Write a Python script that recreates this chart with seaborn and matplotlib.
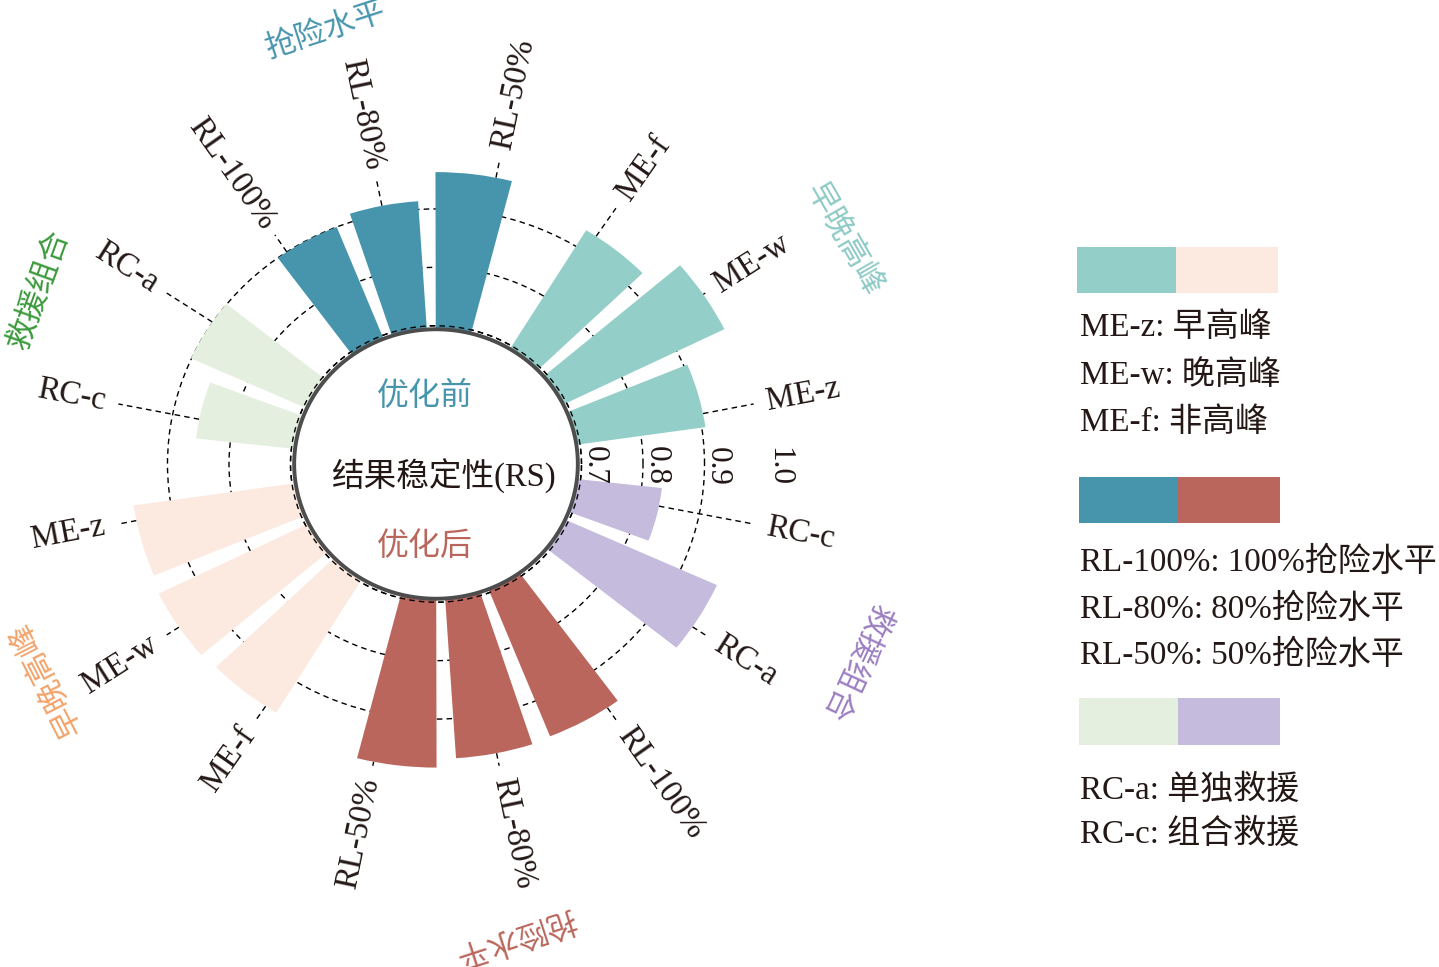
import numpy as np
import pandas as pd
import matplotlib
matplotlib.use("Agg")
import matplotlib.pyplot as plt
import seaborn as sns
from matplotlib.patches import Rectangle

# ---------------- data ----------------
groups = ["ME", "ME", "ME", "RL", "RL", "RL", "RC", "RC"]
categories = ["ME-z", "ME-w", "ME-f", "RL-50%", "RL-80%", "RL-100%", "RC-a", "RC-c"]
rs_before = [0.906, 0.986, 0.932, 0.963, 0.914, 0.900, 0.901, 0.856]   # 优化前
rs_after = [0.960, 0.966, 0.962, 0.983, 0.968, 0.965, 0.965, 0.833]    # 优化后
r_ticks = [0.7, 0.8, 0.9, 1.0]
r_tick_labels = ["0.7", "0.8", "0.9", "1.0"]
center_texts = ["优化前", "结果稳定性(RS)", "优化后"]
group_names = ["抢险水平", "早晚高峰", "救援组合", "救援组合", "抢险水平", "早晚高峰"]
legend_text = [
    ["ME-z: 早高峰", "ME-w: 晚高峰", "ME-f: 非高峰"],
    ["RL-100%: 100%抢险水平", "RL-80%: 80%抢险水平", "RL-50%: 50%抢险水平"],
    ["RC-a: 单独救援", "RC-c: 组合救援"],
]

# ---------------- style ----------------
sns.set_theme(style="white")
FAM = ["Liberation Serif", "Noto Sans CJK SC", "DejaVu Sans"]
plt.rcParams["font.family"] = FAM
plt.rcParams["axes.unicode_minus"] = False

col_before = dict(zip(["ME", "RL", "RC"], sns.color_palette(["#94CEC9", "#4795AD", "#E5EFDF"])))
col_after = dict(zip(["ME", "RL", "RC"], sns.color_palette(["#FCEAE0", "#BA665C", "#C4BBDD"])))
TXT = "#231815"

W, H = 1439, 967
fig = plt.figure(figsize=(W / 100, H / 100), dpi=100)

# geometry (pixels)
CX, CY = 436, 464
SQ = 0.95
R0 = 0.4634          # value at the centre
RMAX = 1.0
PX_PER = 615.0
rad_px = (RMAX - R0) * PX_PER
ax = fig.add_axes([(CX - rad_px) / W, (H - CY - rad_px * SQ) / H,
                   2 * rad_px / W, 2 * rad_px * SQ / H], projection="polar")
ax.set_aspect("auto")
ax.set_ylim(R0, RMAX)
ax.set_xticks([])
ax.set_yticks(r_ticks[:3])
ax.set_yticklabels([])
ax.yaxis.grid(True, linestyle=(0, (4, 3)), color="black", linewidth=1.0)
ax.xaxis.grid(False)
ax.spines["polar"].set_visible(False)
ax.set_facecolor("white")
ax.set_axisbelow(True)

# bar angles
step, width = 18.0, 14.4
gap_extra = {("ME", "RL"): 13.5, ("RL", "RC"): 11.5, ("RC", "ME"): 11.0}
seq = groups + groups
angles = []
a = 15.4
for i in range(len(seq)):
    if i > 0:
        prev, cur = seq[i - 1], seq[i]
        a += step + (gap_extra[(prev, cur)] if prev != cur else 0.0)
    angles.append(a)

df = pd.DataFrame({
    "label": categories + categories,
    "grp": seq,
    "phase": ["before"] * 8 + ["after"] * 8,
    "value": rs_before + rs_after,
    "angle": angles,
})
df["color"] = [col_before[g] if p == "before" else col_after[g] for g, p in zip(df["grp"], df["phase"])]

BOTTOM = 0.69
ax.bar(np.deg2rad(df["angle"]), df["value"] - BOTTOM, width=np.deg2rad(width), bottom=BOTTOM,
       color=list(df["color"]), linewidth=0, zorder=2)

# 0.7 dashed ring on top of bars
th = np.linspace(0, 2 * np.pi, 720)
ax.plot(th, np.full_like(th, 0.7), ls=(0, (4, 3)), color="black", lw=1.0, zorder=3)
# central white disc
ax.fill(th, np.full_like(th, 0.694), facecolor="white", edgecolor="#4D4D4D", lw=2.8, zorder=4)

# labels and leaders (16 equally spaced label positions)
LEAD_END, LAB_R = 0.99, 1.012
label_r_override = {4: (0.962, 0.978), 5: (0.935, 0.952)}   # upper RL-80%, RL-100%
for k in range(len(df)):
    lab = df["label"].iloc[k]
    val = df["value"].iloc[k]
    lead_end, lab_r = label_r_override.get(k, (LEAD_END, LAB_R))
    la = 11.25 + 22.5 * k
    t = np.deg2rad(la)
    ax.plot([t, t], [val, lead_end], ls=(0, (4, 3)), color="black", lw=1.0,
            zorder=1, clip_on=False)
    phi = np.degrees(np.arctan2(SQ * np.sin(t), np.cos(t)))
    if np.cos(t) >= 0:
        rot, ha = phi, "left"
    else:
        rot, ha = phi + 180, "right"
    ax.text(t, lab_r, lab, rotation=rot, ha=ha, va="center", rotation_mode="anchor",
            fontsize=23.5, color=TXT, family=FAM)

# radial tick labels
for v, s in zip(r_ticks, r_tick_labels):
    ax.text(np.deg2rad(-0.5), v + 0.021, s, rotation=-90, ha="center", va="center",
            fontsize=22.5, color=TXT, family=FAM)


def fx(x):
    return x / W


def fy(y):
    return 1 - y / H


LW = "light"
# centre texts
fig.text(fx(425), fy(397), center_texts[0], color="#4795AD", fontsize=23, ha="center", va="center",
         family=FAM, fontweight=LW)
fig.text(fx(443), fy(476), center_texts[1], color=TXT, fontsize=23.5, ha="center", va="center",
         family=FAM, fontweight=LW)
fig.text(fx(425), fy(547), center_texts[2], color="#BA665C", fontsize=23, ha="center", va="center",
         family=FAM, fontweight=LW)

# group labels
g_pos = [(326, 32, 18), (843, 240, -60), (40, 290, 70), (855, 662, -115), (513, 935, -162), (47, 678, 117)]
g_col = ["#4795AD", "#8ECAC5", "#3A9A3A", "#9B7EC1", "#BA665C", "#F2A36A"]
for name, (x, y, r), c in zip(group_names, g_pos, g_col):
    fig.text(fx(x), fy(y), name, rotation=r, rotation_mode="anchor", ha="center", va="center",
             color=c, fontsize=22.5, family=FAM, fontweight=LW)

# legend
rows = [(247, 293, 1077, 1176, 1278, col_before["ME"], col_after["ME"]),
        (477, 523, 1079, 1178, 1280, col_before["RL"], col_after["RL"]),
        (698, 745, 1079, 1178, 1280, col_before["RC"], col_after["RC"])]
for (y0, y1, x0, xm, x1, c1, c2) in rows:
    fig.add_artist(Rectangle((fx(x0), fy(y1)), fx(xm - x0), (y1 - y0) / H, transform=fig.transFigure,
                             facecolor=c1, edgecolor="none"))
    fig.add_artist(Rectangle((fx(xm), fy(y1)), fx(x1 - xm), (y1 - y0) / H, transform=fig.transFigure,
                             facecolor=c2, edgecolor="none"))
text_y = [[328, 376, 423], [562, 609, 655], [790, 834]]
for lines, ys in zip(legend_text, text_y):
    for s, y in zip(lines, ys):
        fig.text(fx(1080), fy(y), s, ha="left", va="center", fontsize=23.8, color=TXT,
                 family=FAM, fontweight=LW)

fig.savefig("out.png", dpi=100, facecolor="white")
